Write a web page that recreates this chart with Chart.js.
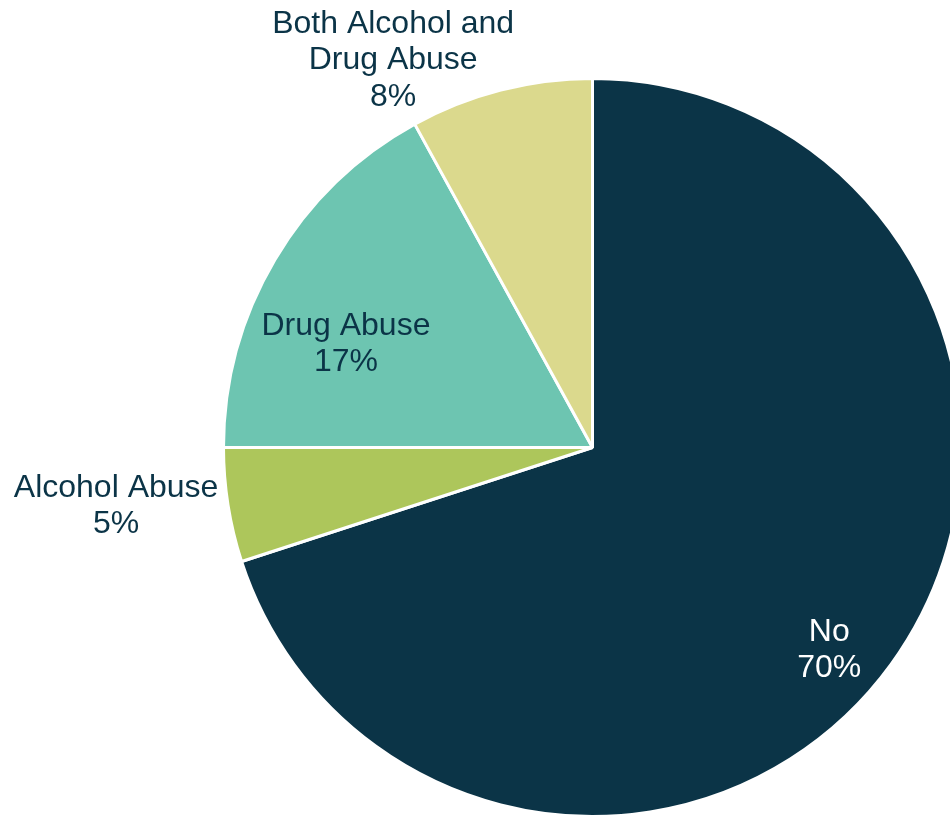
<!DOCTYPE html>
<html>
<head>
<meta charset="utf-8">
<script src="https://cdn.jsdelivr.net/npm/chart.js@4.4.1/dist/chart.umd.min.js"></script>
<style>
  html, body { margin: 0; padding: 0; background: #ffffff; }
  #frame { position: relative; width: 950px; height: 816px; overflow: hidden; }
  #pie { position: absolute; left: 0; top: 0; }
</style>
</head>
<body>
<div id="frame"><canvas id="pie" width="1186" height="896"></canvas></div>
<script>
// Substance abuse breakdown (percent of respondents)
const categories = ['No', 'Alcohol Abuse', 'Drug Abuse', 'Both Alcohol and Drug Abuse'];
const shares = [70, 5, 17, 8];
const labelLines = [['No'], ['Alcohol Abuse'], ['Drug Abuse'], ['Both Alcohol and', 'Drug Abuse']];

const sliceColors = ['#0b3447', '#adc65b', '#6dc5b1', '#dbd98d'];
const labelColors = ['#ffffff', '#0b3447', '#0b3447', '#0b3447'];
// label anchor: angular shift from slice middle (deg) and distance as a share of the radius
const labelPlacement = [
  { shift: 4.2, dist: 0.84 },
  { shift: 2.3, dist: 1.3 },
  { shift: -7.4, dist: 0.727 },
  { shift: -12.7, dist: 1.186 }
];

const sliceLabels = {
  id: 'sliceLabels',
  afterDatasetsDraw(chart) {
    const ctx = chart.ctx;
    const meta = chart.getDatasetMeta(0);
    const lineH = 36.5;
    const baseNudge = 2.5; // optical centring of the text block
    ctx.save();
    ctx.font = '32px "Liberation Sans", Arial, sans-serif';
    ctx.textAlign = 'center';
    ctx.textBaseline = 'middle';
    meta.data.forEach((arc, i) => {
      const p = arc.getProps(['x', 'y', 'startAngle', 'endAngle', 'outerRadius'], true);
      const a = (p.startAngle + p.endAngle) / 2 + labelPlacement[i].shift * Math.PI / 180;
      const r = p.outerRadius * labelPlacement[i].dist;
      const cx = p.x + Math.cos(a) * r;
      const cy = p.y + Math.sin(a) * r + baseNudge;
      const lines = labelLines[i].concat([shares[i] + '%']);
      const top = cy - (lines.length - 1) * lineH / 2;
      ctx.fillStyle = labelColors[i];
      lines.forEach((t, k) => ctx.fillText(t, cx, top + k * lineH));
    });
    ctx.restore();
  }
};

new Chart(document.getElementById('pie'), {
  type: 'pie',
  data: {
    labels: categories,
    datasets: [{
      data: shares,
      backgroundColor: sliceColors,
      borderColor: '#ffffff',
      borderWidth: 3,
      hoverOffset: 0
    }]
  },
  options: {
    responsive: false,
    animation: false,
    layout: { padding: { left: 222, right: 223, top: 77, bottom: 78 } },
    plugins: {
      legend: { display: false },
      tooltip: { enabled: false }
    }
  },
  plugins: [sliceLabels]
});
</script>
</body>
</html>
